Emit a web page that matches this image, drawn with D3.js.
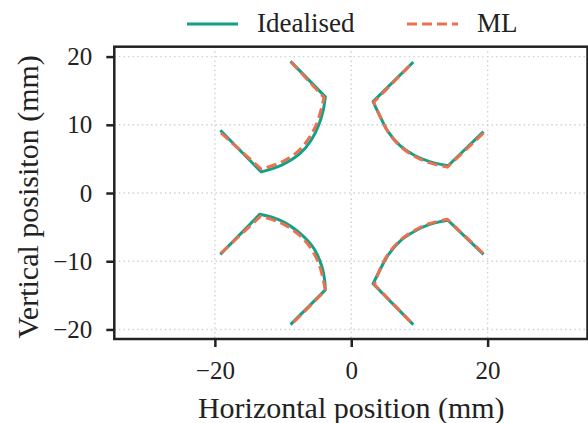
<!DOCTYPE html>
<html>
<head>
<meta charset="utf-8">
<script src="https://cdn.jsdelivr.net/npm/d3@7"></script>
<style>
  body { margin: 0; background: #fff; }
  svg { display: block; }
  text { font-family: "Liberation Serif", "Times New Roman", serif; fill: #222; }
</style>
</head>
<body>
<svg id="chart"></svg>
<script>
const WIDTH = 588;
const HEIGHT = 423;

// Idealised paths, one per quadrant, [x, y] in mm
// first point -> corner is straight, corner -> ... -> second last is the arc, last segment straight
const idealTL = [[-19.2, 9.2], [-13.2, 3.1], [-10.2, 4.1], [-7.5, 5.8], [-5.9, 7.7], [-4.8, 9.9], [-4.1, 12.2], [-3.8, 14.1], [-8.9, 19.3]];
const idealTR = [[19.4, 9.0], [14.2, 4.0], [11.5, 4.6], [9.3, 5.5], [7.2, 6.9], [5.4, 9.0], [4.1, 11.5], [3.2, 13.4], [9.1, 19.2]];
const idealBL = [[-19.2, -9.0], [-13.4, -3.1], [-10.4, -4.0], [-7.5, -5.9], [-5.5, -8.1], [-4.3, -10.8], [-3.9, -12.8], [-3.8, -14.2], [-8.9, -19.3]];
const idealBR = [[19.4, -9.0], [14.2, -4.0], [11.5, -4.6], [9.3, -5.6], [7.2, -7.0], [5.4, -9.1], [4.1, -11.5], [3.2, -13.3], [9.1, -19.3]];

// ML predictions
const mlTL = [[-19.1, 8.8], [-13.2, 3.5], [-10.3, 4.5], [-7.7, 6.2], [-6.1, 8.2], [-5.1, 10.1], [-4.4, 12.3], [-4.0, 14.0], [-8.8, 19.2]];
const mlTR = [[19.4, 8.8], [14.1, 3.8], [11.4, 4.45], [9.25, 5.4], [7.2, 6.85], [5.4, 8.95], [4.15, 11.4], [3.3, 13.3], [9.0, 19.1]];
const mlBL = [[-19.1, -8.8], [-13.3, -3.4], [-10.5, -4.3], [-7.7, -6.1], [-5.8, -8.3], [-4.6, -10.8], [-4.1, -12.8], [-3.8, -14.3], [-8.8, -19.3]];
const mlBR = [[19.3, -8.8], [14.1, -3.85], [11.4, -4.5], [9.25, -5.5], [7.2, -6.9], [5.35, -9.05], [4.05, -11.55], [3.4, -13.4], [9.0, -19.2]];

const xTicks = [-20, 0, 20];
const yTicks = [-20, -10, 0, 10, 20];
const seriesNames = ["Idealised", "ML"];

const COLORS = { Idealised: "#12a086", ML: "#eb7050" };

const margin = { top: 46.7, right: 0.5, bottom: 84, left: 114.3 };
const innerW = WIDTH - margin.left - margin.right;
const innerH = HEIGHT - margin.top - margin.bottom;

const svg = d3.select("#chart").attr("width", WIDTH).attr("height", HEIGHT);

const x = d3.scaleLinear().domain([-34.75, 34.65]).range([0, innerW]);
const y = d3.scaleLinear().domain([-21.4, 21.45]).range([innerH, 0]);

const g = svg.append("g").attr("transform", `translate(${margin.left}, ${margin.top})`);

// grid
g.append("g")
  .selectAll("line")
  .data(xTicks)
  .join("line")
  .attr("x1", (d) => x(d))
  .attr("x2", (d) => x(d))
  .attr("y1", 0)
  .attr("y2", innerH)
  .attr("stroke", "#cfcfcf")
  .attr("stroke-width", 1.4)
  .attr("stroke-dasharray", "1.4,3.2");

g.append("g")
  .selectAll("line")
  .data(yTicks)
  .join("line")
  .attr("x1", 0)
  .attr("x2", innerW)
  .attr("y1", (d) => y(d))
  .attr("y2", (d) => y(d))
  .attr("stroke", "#cfcfcf")
  .attr("stroke-width", 1.4)
  .attr("stroke-dasharray", "1.4,3.2");

// straight arms, smooth arc in between
const smooth = d3.line().x((d) => x(d[0])).y((d) => y(d[1])).curve(d3.curveCatmullRom.alpha(0.5));
const shape = (pts) => {
  const n = pts.length;
  const first = pts[0];
  const last = pts[n - 1];
  const arc = smooth(pts.slice(1, n - 1)).replace(/^M/, "L");
  return `M${x(first[0])},${y(first[1])}` + arc + `L${x(last[0])},${y(last[1])}`;
};

g.append("g")
  .attr("class", "ideal")
  .selectAll("path")
  .data([idealTL, idealTR, idealBL, idealBR])
  .join("path")
  .attr("d", shape)
  .attr("fill", "none")
  .attr("stroke", COLORS.Idealised)
  .attr("stroke-width", 3)
  .attr("stroke-linejoin", "round");

g.append("g")
  .attr("class", "ml")
  .selectAll("path")
  .data([mlTL, mlTR, mlBL, mlBR])
  .join("path")
  .attr("d", shape)
  .attr("fill", "none")
  .attr("stroke", COLORS.ML)
  .attr("stroke-width", 3)
  .attr("stroke-dasharray", "10,5");

// axes
const xAxis = g.append("g")
  .attr("transform", `translate(0, ${innerH})`)
  .call(d3.axisBottom(x).tickValues(xTicks).tickSize(8).tickPadding(14));
const yAxis = g.append("g")
  .call(d3.axisLeft(y).tickValues(yTicks).tickSize(8).tickPadding(14));

[xAxis, yAxis].forEach((a) => {
  a.select(".domain").remove();
  a.selectAll(".tick line").attr("stroke", "#222").attr("stroke-width", 2.5);
  a.selectAll(".tick text").attr("font-size", 25).attr("fill", "#222");
});

// frame
g.append("rect")
  .attr("width", innerW)
  .attr("height", innerH)
  .attr("fill", "none")
  .attr("stroke", "#222")
  .attr("stroke-width", 2.5);

// axis labels
svg.append("text")
  .attr("x", margin.left + x(0))
  .attr("y", 418)
  .attr("text-anchor", "middle")
  .attr("font-size", 30)
  .text("Horizontal position (mm)");

svg.append("text")
  .attr("transform", `translate(38, ${margin.top + innerH / 2 + 4}) rotate(-90)`)
  .attr("text-anchor", "middle")
  .attr("font-size", 30)
  .text("Vertical posisiton (mm)");

// legend
const legend = svg.append("g").attr("class", "legend");
const legendX = [187, 407];
legend.selectAll(".item")
  .data(seriesNames)
  .join((enter) => {
    const item = enter.append("g")
      .attr("class", "item")
      .attr("transform", (_, i) => `translate(${legendX[i]}, 24)`);
    item.append("line")
      .attr("x1", 0)
      .attr("x2", 51)
      .attr("stroke", (d) => COLORS[d])
      .attr("stroke-width", 3)
      .attr("stroke-dasharray", (d) => (d === "ML" ? "10,5" : null));
    item.append("text")
      .attr("x", 70)
      .attr("y", 8)
      .attr("font-size", 27)
      .text((d) => d);
    return item;
  });
</script>
</body>
</html>
